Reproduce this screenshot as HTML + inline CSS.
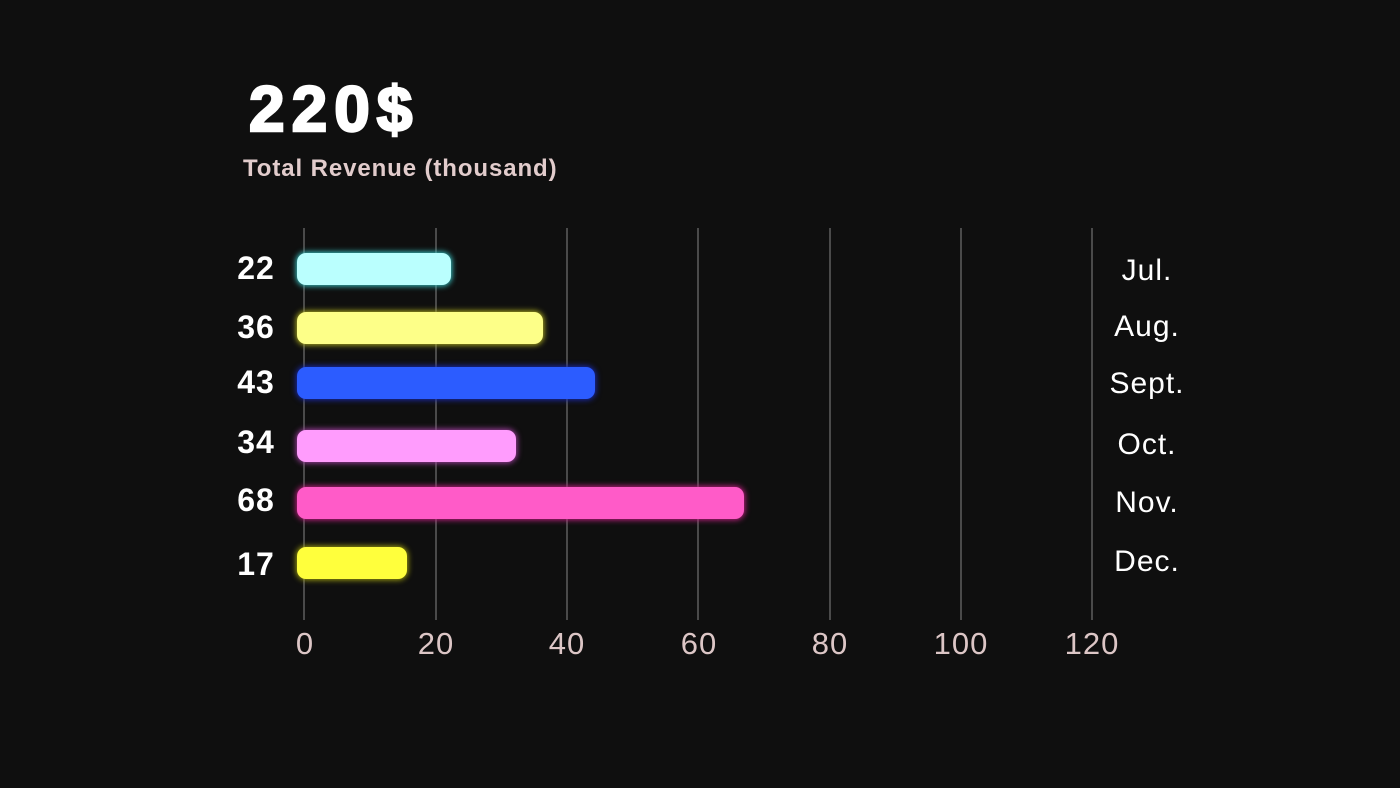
<!DOCTYPE html>
<html><head><meta charset="utf-8"><style>
html,body{margin:0;padding:0;background:#0f0f0f;}
body{width:1400px;height:788px;position:relative;overflow:hidden;font-family:"Liberation Sans",sans-serif;}
.t{position:absolute;white-space:nowrap;}
.g{position:absolute;top:228px;height:392px;width:2px;background:#4a4a4a;}
.b{position:absolute;left:297px;height:32px;border-radius:9px;}
.v{position:absolute;left:226px;width:60px;text-align:center;color:#fff;font-weight:bold;font-size:32px;line-height:32px;letter-spacing:1px;}
.m{position:absolute;left:1087px;width:120px;text-align:center;color:#fff;font-size:30px;line-height:32px;letter-spacing:1px;}
.x{position:absolute;top:626px;width:80px;text-align:center;color:#dcc6c6;font-size:31px;line-height:36px;letter-spacing:1px;}
</style></head><body>
<div class="t" style="left:249px;top:72px;font-size:64px;font-weight:bold;color:#fff;letter-spacing:7px;-webkit-text-stroke:2.5px #fff;">220$</div>
<div class="t" style="left:243px;top:155px;font-size:24px;font-weight:bold;color:#e2cccc;letter-spacing:0.9px;">Total Revenue (thousand)</div>

<div class="g" style="left:303px"></div>
<div class="g" style="left:435px"></div>
<div class="g" style="left:566px"></div>
<div class="g" style="left:697px"></div>
<div class="g" style="left:829px"></div>
<div class="g" style="left:960px"></div>
<div class="g" style="left:1091px"></div>

<div class="b" style="top:253px;width:154px;background:#bafffe;box-shadow:0 0 6px 1px #3cc8c8;"></div>
<div class="b" style="top:312px;width:246px;background:#fdff88;box-shadow:0 0 6px 1px #b0b020;"></div>
<div class="b" style="top:367px;width:298px;background:#2c5cff;box-shadow:0 0 6px 1px #1a2ab0;"></div>
<div class="b" style="top:430px;width:219px;background:#ff9cfd;box-shadow:0 0 6px 1px #a040a0;"></div>
<div class="b" style="top:487px;width:447px;background:#ff5bc8;box-shadow:0 0 6px 1px #c02080;"></div>
<div class="b" style="top:547px;width:110px;background:#ffff3c;box-shadow:0 0 6px 1px #a0a010;"></div>

<div class="v" style="top:252px">22</div>
<div class="v" style="top:311px">36</div>
<div class="v" style="top:366px">43</div>
<div class="v" style="top:426px">34</div>
<div class="v" style="top:484px">68</div>
<div class="v" style="top:548px">17</div>

<div class="m" style="top:255px">Jul.</div>
<div class="m" style="top:311px">Aug.</div>
<div class="m" style="top:368px">Sept.</div>
<div class="m" style="top:429px">Oct.</div>
<div class="m" style="top:487px">Nov.</div>
<div class="m" style="top:546px">Dec.</div>

<div class="x" style="left:265px">0</div>
<div class="x" style="left:396px">20</div>
<div class="x" style="left:527px">40</div>
<div class="x" style="left:659px">60</div>
<div class="x" style="left:790px">80</div>
<div class="x" style="left:921px">100</div>
<div class="x" style="left:1052px">120</div>
</body></html>
